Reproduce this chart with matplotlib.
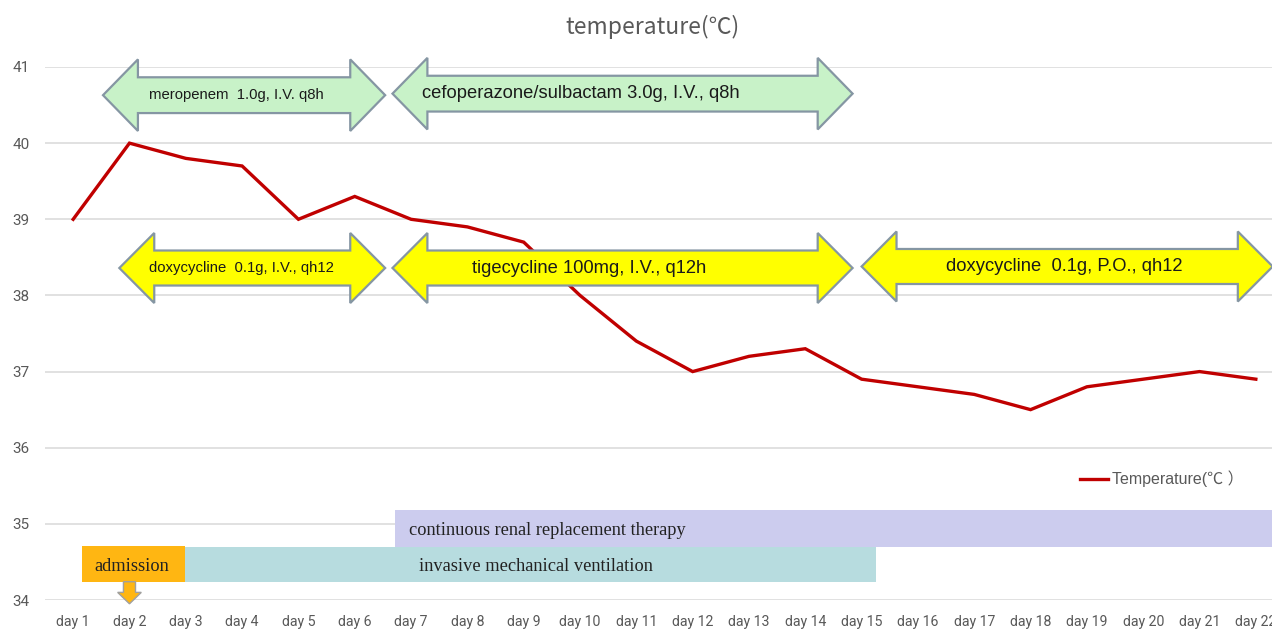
import matplotlib
matplotlib.use("Agg")
import matplotlib.pyplot as plt
from matplotlib.patches import Polygon, Rectangle
from matplotlib.font_manager import FontProperties
from matplotlib.lines import Line2D

# ---------------- data ----------------
days = ["day 1", "day 2", "day 3", "day 4", "day 5", "day 6", "day 7", "day 8",
        "day 9", "day 10", "day 11", "day 12", "day 13", "day 14", "day 15",
        "day 16", "day 17", "day 18", "day 19", "day 20", "day 21", "day 22"]
temperature = [39.0, 40.0, 39.8, 39.7, 39.0, 39.3, 39.0, 38.9, 38.7, 38.0, 37.4,
               37.0, 37.2, 37.3, 36.9, 36.8, 36.7, 36.5, 36.8, 36.9, 37.0, 36.9]
yticks = [34, 35, 36, 37, 38, 39, 40, 41]

# drug arrows (label, start day, end day, centre level, colour kind, font size)
drug_labels = ["meropenem  1.0g, I.V. q8h",
               "cefoperazone/sulbactam 3.0g, I.V., q8h",
               "doxycycline  0.1g, I.V., qh12",
               "tigecycline 100mg, I.V., q12h",
               "doxycycline  0.1g, P.O., qh12"]
drug_start = [1.53, 6.67, 1.82, 6.67, 15.0]
drug_end = [6.54, 14.84, 6.54, 14.84, 22.3]
drug_level = [40.63, 40.65, 38.36, 38.36, 38.38]
drug_kind = ["green", "green", "yellow", "yellow", "yellow"]
drug_text_x = [3.89, 10.02, 3.98, 10.17, 18.6]
drug_fontsize = [10.7, 13.2, 10.7, 13.2, 13.2]

# therapy bars (label, start, end, bottom, top)
therapy_labels = ["continuous renal replacement therapy",
                  "invasive mechanical ventilation",
                  "admission"]
therapy_start = [6.72, 2.99, 1.16]
therapy_end = [23.0, 15.26, 2.99]
therapy_low = [34.70, 34.24, 34.24]
therapy_high = [35.18, 34.70, 34.71]
therapy_colors = ["#ccccee", "#b7dcdf", "#ffb612"]
therapy_text_x = [6.97, 9.22, 2.04]
therapy_text_ha = ["left", "center", "center"]

# ---------------- figure ----------------
W, H = 1272, 629
fig = plt.figure(figsize=(W / 100, H / 100), dpi=100)
ax_left, ax_right = 45 / W, 1284 / W
ax_bottom, ax_top = 1 - 600 / H, 1 - 67 / H
ax = fig.add_axes([ax_left, ax_bottom, ax_right - ax_left, ax_top - ax_bottom])

x = list(range(1, len(days) + 1))
ax.set_xlim(0.5, len(days) + 0.5)
ax.set_ylim(34, 41)

grey = "#595959"
ax.set_yticks(yticks)
ax.set_yticklabels([str(v) for v in yticks], fontfamily="Roboto", fontsize=11, color=grey)
ax.set_xticks(x)
ax.set_xticklabels(days, fontfamily="Roboto", fontsize=10.2, color=grey)
ax.tick_params(axis="both", length=0)
ax.tick_params(axis="y", pad=11)
ax.tick_params(axis="x", pad=11)
for s in ax.spines.values():
    s.set_visible(False)
ax.grid(axis="y", color="#d9d9d9", linewidth=1.1)
ax.set_axisbelow(True)

line, = ax.plot(x, temperature, color="#c00000", linewidth=2.4, zorder=3,
                solid_joinstyle="miter", label="Temperature(℃）")

# drug double arrows
head_len = 0.62
for lab, x0, x1, yc, kind, tx, fs in zip(drug_labels, drug_start, drug_end, drug_level,
                                         drug_kind, drug_text_x, drug_fontsize):
    hh, hs = 0.47, 0.235
    if kind == "yellow":
        hh, hs = 0.46, 0.23
    pts = [(x0, yc), (x0 + head_len, yc + hh), (x0 + head_len, yc + hs),
           (x1 - head_len, yc + hs), (x1 - head_len, yc + hh), (x1, yc),
           (x1 - head_len, yc - hh), (x1 - head_len, yc - hs),
           (x0 + head_len, yc - hs), (x0 + head_len, yc - hh)]
    fc = "#c8f2c8" if kind == "green" else "#ffff00"
    poly = Polygon(pts, closed=True, facecolor=fc, edgecolor="#8596a3",
                   linewidth=1.6, zorder=4, clip_on=False)
    ax.add_patch(poly)
    ax.text(tx, yc, lab, ha="center", va="center", fontsize=fs,
            fontfamily="Liberation Sans", color="#1a1a1a", zorder=5)

# therapy bars
for lab, x0, x1, y0, y1, c, tx, ha in zip(therapy_labels, therapy_start, therapy_end,
                                          therapy_low, therapy_high, therapy_colors,
                                          therapy_text_x, therapy_text_ha):
    ax.add_patch(Rectangle((x0, y0), x1 - x0, y1 - y0, facecolor=c, edgecolor="none",
                           zorder=2, clip_on=False))
    ax.text(tx, (y0 + y1) / 2 - 0.03, lab, ha=ha, va="center", fontsize=13.2,
            fontfamily="Liberation Serif", color="#222222", zorder=5)

# small admission arrow pointing down at day 2
adm_x = 2
shaft_w, head_w = 0.107, 0.21
pts = [(adm_x - shaft_w, 34.24), (adm_x + shaft_w, 34.24), (adm_x + shaft_w, 34.10),
       (adm_x + head_w, 34.10), (adm_x, 33.95), (adm_x - head_w, 34.10),
       (adm_x - shaft_w, 34.10)]
ax.add_patch(Polygon(pts, closed=True, facecolor="#ffb612", edgecolor="#a0a0a0",
                     linewidth=1.0, zorder=4, clip_on=False))

# legend
leg = fig.legend(handles=[Line2D([0], [0], color="#c00000", linewidth=2.4)],
                 labels=["Temperature(℃ ）"], loc="center left",
                 bbox_to_anchor=(1080 / W, 1 - 479 / H), frameon=False,
                 borderpad=0, borderaxespad=0, handlelength=1.75, handletextpad=0.25,
                 prop=FontProperties(family=["Liberation Sans", "Noto Sans CJK SC"], size=11.5))
for t in leg.get_texts():
    t.set_color(grey)

# title
fig.text(653 / W, 1 - 27 / H, "temperature(℃)", ha="center", va="center",
         fontsize=16.5, color=grey, family=["Noto Sans CJK SC", "DejaVu Sans"])

fig.savefig("out.png", dpi=100, facecolor="white")
